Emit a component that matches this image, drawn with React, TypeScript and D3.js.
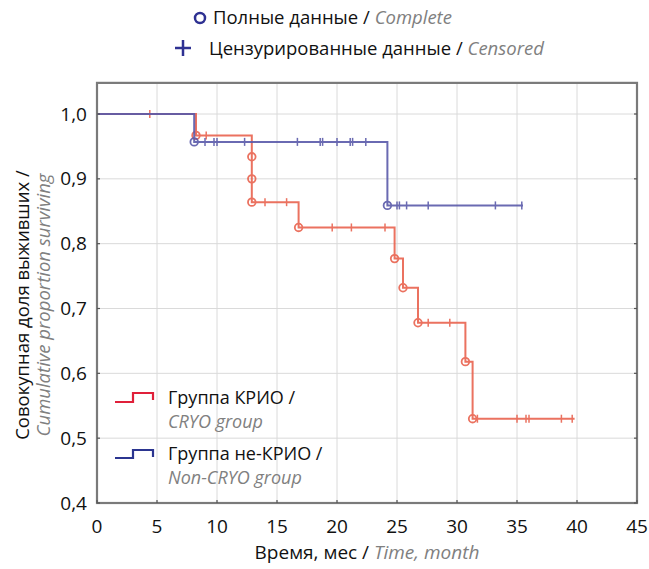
import * as d3 from "d3";

// time (months), survival after event
const cryoEvents: [number, number][] = [
  [0, 1.0],
  [8.25, 0.967],
  [12.9, 0.934],
  [12.9, 0.9],
  [12.9, 0.864],
  [16.8, 0.825],
  [24.8, 0.777],
  [25.5, 0.732],
  [26.75, 0.678],
  [30.7, 0.618],
  [31.3, 0.53],
  [39.8, 0.53],
];
const cryoCensored = [4.4, 9.1, 14.0, 15.8, 19.6, 21.2, 24.0, 27.6, 29.4, 31.7, 35.0, 35.75, 36.0, 38.7, 39.6];

const nonCryoEvents: [number, number][] = [
  [0, 1.0],
  [8.1, 0.957],
  [24.2, 0.859],
  [35.5, 0.859],
];
const nonCryoCensored = [9.0, 9.75, 10.0, 12.3, 16.7, 18.6, 18.8, 20.0, 21.1, 21.3, 22.4, 25.0, 25.2, 25.8, 27.6, 33.2, 35.4];

const xTicks = [0, 5, 10, 15, 20, 25, 30, 35, 40, 45];
const yTicks = [0.4, 0.5, 0.6, 0.7, 0.8, 0.9, 1.0];

const W = 649;
const H = 569;
const FONT = "'Open Sans', 'Noto Sans', sans-serif";
const RED = "#e9634f";
const BLUE = "#5a5aaa";

export default function App() {
  const x = d3.scaleLinear().domain([0, 45]).range([97, 637]);
  const y = d3.scaleLinear().domain([0.4, 1.0]).range([503, 114]);
  const top = y(1.048);

  const line = d3
    .line<[number, number]>()
    .x((d) => x(d[0]))
    .y((d) => y(d[1]))
    .curve(d3.curveStepAfter);

  // survival value at a censoring time
  const survAt = (events: [number, number][], t: number) => {
    let s = 1;
    for (const e of events) if (e[0] <= t) s = e[1];
    return s;
  };

  const curve = (events: [number, number][], censored: number[], color: string) => (
    <g stroke={color} fill="none" strokeWidth={2} opacity={0.9}>
      <path d={line(events) ?? ""} />
      {events.slice(1, -1).map((e, i) => (
        <circle key={"c" + i} cx={x(e[0])} cy={y(e[1])} r={3.8} strokeWidth={1.8} />
      ))}
      {censored.map((t, i) => {
        const s = survAt(events, t);
        return <line key={"t" + i} x1={x(t)} x2={x(t)} y1={y(s) - 4} y2={y(s) + 4} strokeWidth={1.5} />;
      })}
    </g>
  );

  return (
    <svg width={W} height={H} style={{ display: "block", position: "absolute", left: 0, top: 0 }} fontFamily={FONT}>
      <rect width={W} height={H} fill="#fff" />

      {/* top legend */}
      <circle cx={200} cy={18} r={5} fill="none" stroke="#2e3192" strokeWidth={2.5} />
      <text x={213} y={24} fontSize={18.5} fill="#111">
        Полные данные / <tspan fill="#808080" fontStyle="italic">Complete</tspan>
      </text>
      <g stroke="#2e3192" strokeWidth={2.5}>
        <line x1={175} x2={191} y1={48} y2={48} />
        <line x1={183} x2={183} y1={40} y2={56} />
      </g>
      <text x={209} y={55} fontSize={18.5} fill="#111">
        Цензурированные данные / <tspan fill="#808080" fontStyle="italic">Censored</tspan>
      </text>

      {/* grid */}
      <g stroke="#dadada" strokeWidth={1}>
        {xTicks.slice(1, -1).map((t) => (
          <line key={t} x1={x(t)} x2={x(t)} y1={top} y2={y(0.4)} />
        ))}
        {yTicks.slice(1).map((t) => (
          <line key={t} x1={x(0)} x2={x(45)} y1={y(t)} y2={y(t)} />
        ))}
      </g>

      {curve(cryoEvents, cryoCensored, RED)}
      {curve(nonCryoEvents, nonCryoCensored, BLUE)}

      {/* frame */}
      <rect x={x(0)} y={top} width={x(45) - x(0)} height={y(0.4) - top} fill="none" stroke="#7a7a7a" strokeWidth={2.2} />
      <g stroke="#555" strokeWidth={1.2}>
        {xTicks.map((t) => (
          <line key={t} x1={x(t)} x2={x(t)} y1={y(0.4)} y2={y(0.4) - 3} />
        ))}
        {yTicks.map((t) => (
          <g key={t}>
            <line x1={x(0)} x2={x(0) + 3} y1={y(t)} y2={y(t)} />
            <line x1={x(45)} x2={x(45) - 3} y1={y(t)} y2={y(t)} />
          </g>
        ))}
      </g>

      {/* tick labels */}
      <g fontSize={19} fill="#111">
        {xTicks.map((t) => (
          <text key={t} x={x(t)} y={533} textAnchor="middle">
            {t}
          </text>
        ))}
        {yTicks.map((t) => (
          <text key={t} x={87} y={y(t)} dy="0.35em" textAnchor="end">
            {t.toFixed(1).replace(".", ",")}
          </text>
        ))}
      </g>

      {/* axis titles */}
      <text x={367} y={559} fontSize={19} textAnchor="middle" fill="#111">
        Время, мес / <tspan fill="#808080" fontStyle="italic">Time, month</tspan>
      </text>
      <g transform="translate(29,305) rotate(-90)" fontSize={18.5} textAnchor="middle">
        <text x={0} y={0} fill="#111">Совокупная доля выживших /</text>
        <text x={0} y={21} fill="#808080" fontStyle="italic">
          Cumulative proportion surviving
        </text>
      </g>

      {/* inner legend */}
      <path d="M115,402H133V393H153V400" fill="none" stroke="#e0203a" strokeWidth={2.2} />
      <text x={168} y={404} fontSize={18} fill="#111">Группа КРИО /</text>
      <text x={168} y={428} fontSize={18} fill="#808080" fontStyle="italic">CRYO group</text>
      <path d="M115,458H133V450H153V457" fill="none" stroke="#2b3590" strokeWidth={2.2} />
      <text x={168} y={460} fontSize={18} fill="#111">Группа не-КРИО /</text>
      <text x={168} y={484} fontSize={18} fill="#808080" fontStyle="italic">Non-CRYO group</text>
    </svg>
  );
}
